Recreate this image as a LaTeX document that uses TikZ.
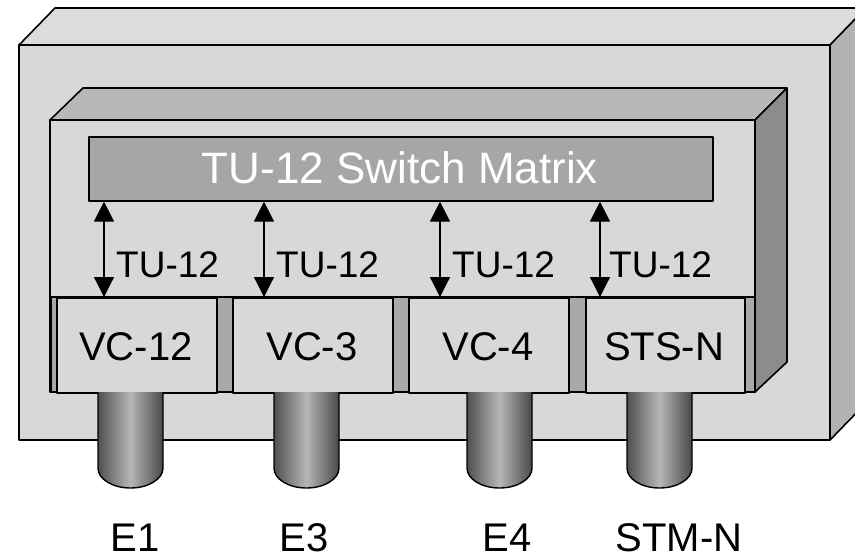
\documentclass[tikz,border=0pt]{standalone}
\usepackage{fontspec}
\setmainfont{Liberation Sans}
\usetikzlibrary{arrows.meta}
\definecolor{frontc}{HTML}{D8D8D8}
\definecolor{topc}{HTML}{DCDCDC}
\definecolor{oside}{HTML}{B3B3B3}
\definecolor{itop}{HTML}{B8B8B8}
\definecolor{iside}{HTML}{8C8C8C}
\definecolor{swc}{HTML}{A6A6A6}
\definecolor{stripc}{HTML}{A8A8A8}
\definecolor{cyld}{HTML}{505050}
\definecolor{cyll}{HTML}{B6B6B6}
\tikzset{
  face/.style={draw=black,line width=1.6pt,line join=round},
  vcbox/.style={face,fill=frontc,inner sep=0pt,anchor=north west},
  boxlabel/.style={font=\fontsize{40}{48}\selectfont,inner sep=0pt,anchor=base},
  tulabel/.style={font=\fontsize{37}{44}\selectfont,inner sep=0pt,anchor=base west},
  portlabel/.style={font=\fontsize{40}{48}\selectfont,inner sep=0pt,anchor=base},
  biarrow/.style={line width=1.2pt,{Triangle[length=20pt,width=20pt]}-{Triangle[length=20pt,width=20pt]}},
  cyl/.style={left color=cyld,right color=cyld!90!black,middle color=cyll,draw=black,line width=1.4pt}
}
\begin{document}
\begin{tikzpicture}[x=1pt,y=-1pt]
\useasboundingbox (0,0) rectangle (855,558);
\clip (0,0) rectangle (855,558);
% outer box
\path[face,fill=topc] (19,45) -- (55,8) -- (866,8) -- (830,45) -- cycle;
\path[face,fill=oside] (830,45) -- (866,8) -- (866,403) -- (830,440) -- cycle;
\path[face,fill=frontc] (19,45) rectangle (830,440);
% inner box
\path[face,fill=itop] (50,120) -- (83,88) -- (787,88) -- (755,120) -- cycle;
\path[face,fill=iside] (755,120) -- (787,88) -- (787,362) -- (755,392) -- cycle;
\path[face,fill=frontc] (50,120) rectangle (755,392);
% switch matrix
\node[face,fill=swc,anchor=north west,minimum width=624pt,minimum height=64pt,inner sep=0pt] (sw) at (88,136) {};
\node[font=\fontsize{44}{52}\selectfont,text=white,inner sep=0pt,anchor=base] (swt) at (400,183) {TU-12 Switch Matrix};
% VC strip
\path[face,fill=stripc] (51,297) rectangle (755,392);
\node[vcbox,minimum width=160pt,minimum height=95pt] (vc12) at (56,297) {};
\node[vcbox,minimum width=160pt,minimum height=95pt] (vc3) at (232,297) {};
\node[vcbox,minimum width=160pt,minimum height=95pt] (vc4) at (408,297) {};
\node[vcbox,minimum width=159pt,minimum height=95pt] (stsn) at (585,297) {};
\node[boxlabel] (lvc12) at (136,360) {VC-12};
\node[boxlabel] (lvc3) at (312,360) {VC-3};
\node[boxlabel] (lvc4) at (488,360) {VC-4};
\node[boxlabel] (lstsn) at (664,360) {STS-N};
% arrows
\coordinate (a1) at (104,297);
\coordinate (a2) at (264,297);
\coordinate (a3) at (440,297);
\coordinate (a4) at (600,297);
\draw[biarrow] (sw.south -| a1) -- (a1);
\draw[biarrow] (sw.south -| a2) -- (a2);
\draw[biarrow] (sw.south -| a3) -- (a3);
\draw[biarrow] (sw.south -| a4) -- (a4);
\node[tulabel] (t1) at (116,277) {TU-12};
\node[tulabel] (t2) at (276,277) {TU-12};
\node[tulabel] (t3) at (452,277) {TU-12};
\node[tulabel] (t4) at (609,277) {TU-12};
% cylinders
\foreach \cx/\nm in {130.5/c1,306.5/c2,499.5/c3,659.5/c4}{
  \path[cyl] (\cx-32.5,392) -- (\cx-32.5,468) arc[start angle=180,end angle=0,x radius=32.5,y radius=20] -- (\cx+32.5,392);
  \coordinate (\nm) at (\cx,488);
}
% port labels
\node[portlabel] (e1) at (135,551) {E1};
\node[portlabel] (e3) at (304,551) {E3};
\node[portlabel] (e4) at (507,551) {E4};
\node[portlabel] (stm) at (679,551) {STM-N};
\end{tikzpicture}
\end{document}
